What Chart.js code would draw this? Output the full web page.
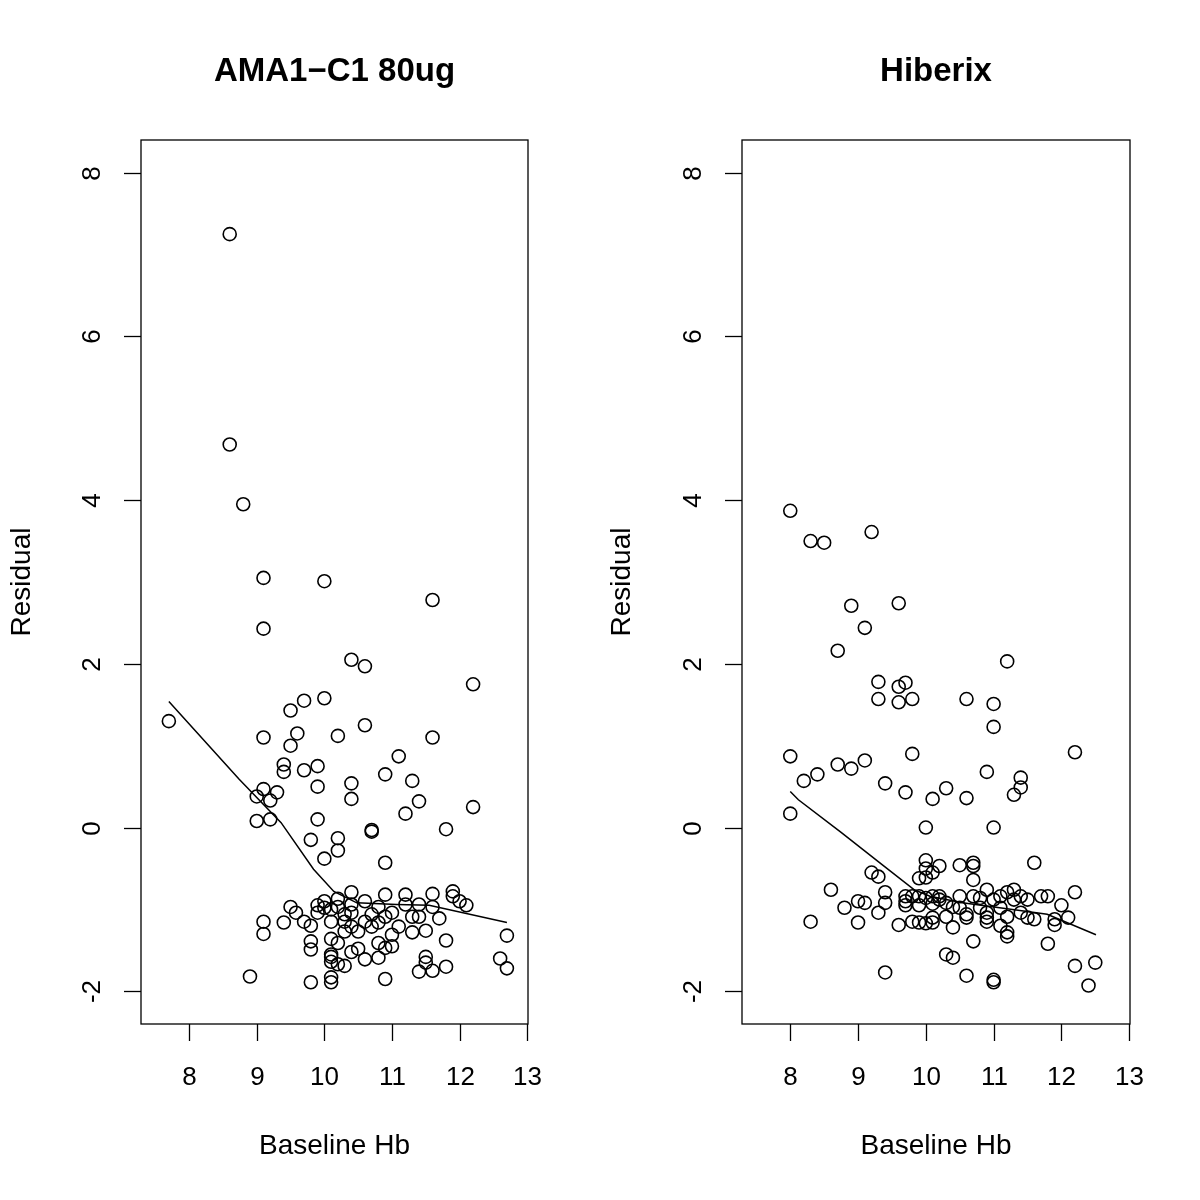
<!DOCTYPE html>
<html>
<head>
<meta charset="utf-8">
<script src="https://cdn.jsdelivr.net/npm/chart.js@4/dist/chart.umd.min.js"></script>
<style>
  html, body { margin: 0; padding: 0; background: #fff; }
  #wrap { position: relative; width: 1200px; height: 1200px; }
  canvas { position: absolute; top: 0; }
</style>
</head>
<body>
<div id="wrap">
  <canvas id="panelLeft" width="600" height="1200" style="left:0"></canvas>
  <canvas id="panelRight" width="600" height="1200" style="left:600px"></canvas>
</div>
<script>
// Eixos comuns
const xTicks = [8, 9, 10, 11, 12, 13];
const yTicks = [-2, 0, 2, 4, 6, 8];

// AMA1-C1 80ug — resíduos
const amaX = [
  8.6, 8.6, 8.8, 9.1, 9.1, 10.0, 11.6, 10.4, 10.6, 12.2, 7.7, 9.5, 9.7, 10.0, 9.6, 9.5, 9.1, 10.2, 10.6, 11.6,
  11.1, 9.4, 9.4, 9.7, 9.9, 10.9, 11.3, 9.9, 9.1, 9.3, 9.0, 9.2, 10.4, 10.4, 11.4, 11.2, 9.9, 9.0, 9.2, 12.2,
  11.8, 10.7, 10.7, 9.8, 10.2, 10.2, 10.0, 10.9,
  9.5, 9.58, 9.7, 9.8, 9.9, 10.0, 10.2, 9.9, 10.0, 9.1, 9.1, 9.4, 9.8, 9.8, 10.1, 10.1, 10.2, 8.9, 9.8, 10.1,
  10.1, 10.4, 10.9, 11.2, 11.6, 11.9, 11.9, 12.0, 12.1, 10.6, 10.4, 11.2, 11.4, 11.6, 10.8, 10.2, 10.1, 10.3,
  10.4, 10.7, 11.0, 11.3, 11.4, 11.7, 10.9, 10.1, 10.3, 10.6, 10.8, 10.4, 10.7, 10.3, 10.5, 11.1, 11.0, 11.3,
  11.5, 11.8, 10.2, 10.8, 11.0, 10.9, 10.4, 10.5, 10.6, 10.8, 10.1, 10.1, 10.3, 11.5, 11.5, 11.4, 11.6, 11.8,
  10.9, 12.7, 12.6, 12.7
];
const amaY = [
  7.25, 4.68, 3.95, 3.05, 2.43, 3.01, 2.78, 2.05, 1.97, 1.75, 1.30, 1.43, 1.55, 1.58, 1.15, 1.00, 1.10, 1.12, 1.25, 1.10,
  0.87, 0.77, 0.68, 0.70, 0.75, 0.65, 0.57, 0.50, 0.47, 0.43, 0.38, 0.33, 0.54, 0.35, 0.32, 0.17, 0.10, 0.08, 0.10, 0.25,
  -0.02, -0.05, -0.03, -0.15, -0.13, -0.28, -0.38, -0.43,
  -0.97, -1.04, -1.15, -1.20, -0.95, -0.90, -0.87, -1.04, -0.98, -1.15, -1.30, -1.16, -1.39, -1.49, -1.36, -1.55, -1.67, -1.82, -1.89, -1.83,
  -1.89, -0.79, -0.82, -0.82, -0.81, -0.78, -0.84, -0.90, -0.95, -0.90, -0.94, -0.94, -0.94, -0.97, -0.97, -0.97, -1.00, -1.06,
  -1.04, -1.06, -1.04, -1.09, -1.09, -1.11, -1.09, -1.15, -1.15, -1.15, -1.16, -1.21, -1.21, -1.27, -1.27, -1.21, -1.31, -1.28,
  -1.26, -1.38, -1.41, -1.41, -1.45, -1.47, -1.52, -1.48, -1.61, -1.59, -1.58, -1.64, -1.69, -1.58, -1.65, -1.76, -1.75, -1.70,
  -1.85, -1.32, -1.60, -1.72
];
const amaFitX = [7.7, 8.74, 9.36, 9.84, 10.14, 10.48, 11.07, 11.55, 12.7];
const amaFitY = [1.54, 0.59, 0.06, -0.51, -0.78, -0.92, -0.94, -0.95, -1.16];

// Hiberix — resíduos
const hibX = [
  8.0, 8.3, 8.5, 9.2, 8.9, 9.1, 9.6, 8.7, 9.3, 9.3, 9.6, 9.7, 9.6, 9.8, 10.6, 11.0, 11.2, 11.0, 9.8, 8.0,
  8.2, 8.4, 8.7, 8.9, 9.1, 9.4, 9.7, 10.1, 10.3, 10.6, 10.9, 11.3, 11.4, 11.4, 12.2, 8.0, 10.0, 11.0,
  10.0, 10.0, 10.1, 10.2, 9.9, 10.0, 10.5, 10.7, 10.7, 10.7, 11.6, 9.2, 9.3, 8.6, 9.4, 9.4, 9.0, 9.1, 8.8, 9.3,
  8.3, 9.0, 9.6, 9.7, 9.7, 9.7, 9.8, 9.9, 10.0, 10.1, 10.2, 9.9, 10.1, 9.8, 9.9, 10.0, 10.1, 10.1, 9.4,
  12.2, 12.0, 12.1, 11.9, 11.9, 11.8, 10.7, 10.4, 10.3, 10.4, 10.6, 11.0, 11.0, 11.2, 11.2, 11.1, 12.2, 12.5, 12.4,
  10.2, 10.3, 10.4, 10.5, 10.5, 10.6, 10.6, 10.7, 10.8, 10.8, 10.9, 10.9, 10.9, 10.9, 11.0, 11.1, 11.1, 11.2, 11.2,
  11.3, 11.3, 11.4, 11.4, 11.5, 11.5, 11.6, 11.7, 11.8, 10.3
];
const hibY = [
  3.87, 3.50, 3.48, 3.61, 2.71, 2.44, 2.74, 2.16, 1.78, 1.57, 1.72, 1.77, 1.53, 1.57, 1.57, 1.51, 2.03, 1.23, 0.90, 0.87,
  0.57, 0.65, 0.77, 0.72, 0.82, 0.54, 0.43, 0.35, 0.48, 0.36, 0.68, 0.40, 0.61, 0.49, 0.92, 0.17, 0.00, 0.00,
  -0.40, -0.50, -0.55, -0.47, -0.62, -0.61, -0.46, -0.43, -0.47, -0.64, -0.43, -0.55, -0.60, -0.76, -0.79, -0.92, -0.90, -0.92, -0.98, -1.04,
  -1.15, -1.16, -1.19, -0.84, -0.90, -0.95, -0.84, -0.84, -0.86, -0.84, -0.84, -0.95, -0.93, -1.15, -1.16, -1.17, -1.16, -1.10, -1.77,
  -0.79, -0.95, -1.10, -1.12, -1.19, -1.42, -1.39, -1.22, -1.55, -1.59, -1.81, -1.86, -1.89, -1.28, -1.33, -1.20, -1.69, -1.65, -1.93,
  -0.88, -0.92, -0.97, -0.84, -0.98, -1.06, -1.10, -0.84, -0.86, -0.98, -0.76, -1.04, -1.10, -1.15, -0.88, -0.84, -0.98, -0.79, -1.09,
  -0.76, -0.88, -0.84, -1.04, -0.88, -1.10, -1.12, -0.84, -0.84, -1.09
];
const hibFitX = [8.0, 8.12, 8.75, 9.35, 9.83, 10.06, 10.54, 11.28, 11.79, 12.51];
const hibFitY = [0.44, 0.34, -0.06, -0.45, -0.76, -0.84, -0.92, -1.00, -1.06, -1.31];

const FONT = '"Liberation Sans", Arial, Helvetica, sans-serif';

// Eixos no estilo R: caixa, marcas para fora, rótulos do eixo y girados
const rAxes = {
  id: 'rAxes',
  afterDraw(chart, args, opts) {
    const { ctx, chartArea: a, scales: { x, y } } = chart;
    ctx.save();
    ctx.strokeStyle = '#000';
    ctx.fillStyle = '#000';
    ctx.lineWidth = 1.3;
    ctx.strokeRect(a.left, a.top, a.right - a.left, a.bottom - a.top);

    ctx.font = '26px ' + FONT;
    ctx.textAlign = 'center';
    ctx.textBaseline = 'middle';
    xTicks.forEach(v => {
      const px = Math.round(x.getPixelForValue(v)) + 0.5;
      ctx.beginPath(); ctx.moveTo(px, a.bottom); ctx.lineTo(px, a.bottom + 17); ctx.stroke();
      ctx.fillText(String(v), px, a.bottom + 54);
    });
    yTicks.forEach(v => {
      const py = Math.round(y.getPixelForValue(v)) + 0.5;
      ctx.beginPath(); ctx.moveTo(a.left - 17, py); ctx.lineTo(a.left, py); ctx.stroke();
      ctx.save();
      ctx.translate(a.left - 48, py);
      ctx.rotate(-Math.PI / 2);
      ctx.fillText(String(v), 0, 0);
      ctx.restore();
    });

    const cx = (a.left + a.right) / 2;
    ctx.font = '28px ' + FONT;
    ctx.fillText('Baseline Hb', cx, 1146);
    ctx.save();
    ctx.translate(22, (a.top + a.bottom) / 2);
    ctx.rotate(-Math.PI / 2);
    ctx.fillText('Residual', 0, 0);
    ctx.restore();

    ctx.font = 'bold 33px ' + FONT;
    ctx.fillText(opts.title, cx, 72);
    ctx.restore();
  }
};

function toPts(xs, ys) {
  return xs.map((v, i) => ({ x: v, y: ys[i] }));
}

function buildPanel(canvasId, title, xs, ys, fitX, fitY, padLeft, padRight) {
  return new Chart(document.getElementById(canvasId), {
    type: 'scatter',
    data: {
      datasets: [
        {
          data: toPts(xs, ys),
          pointStyle: 'circle',
          pointRadius: 6.5,
          pointBorderWidth: 1.6,
          borderColor: '#000',
          backgroundColor: 'rgba(0,0,0,0)',
        },
        {
          type: 'line',
          data: toPts(fitX, fitY),
          showLine: true,
          borderColor: '#000',
          borderWidth: 1.5,
          pointRadius: 0,
          tension: 0,
          fill: false,
        },
      ],
    },
    options: {
      responsive: false,
      animation: false,
      devicePixelRatio: 1,
      layout: { padding: { left: padLeft, right: padRight, top: 140, bottom: 176 } },
      plugins: { legend: { display: false }, tooltip: { enabled: false }, rAxes: { title } },
      scales: {
        x: { type: 'linear', min: 7.288, max: 13.012, display: false },
        y: { type: 'linear', min: -2.4, max: 8.4, display: false },
      },
    },
    plugins: [rAxes],
  });
}

buildPanel('panelLeft', 'AMA1\u2212C1 80ug', amaX, amaY, amaFitX, amaFitY, 141, 72);
buildPanel('panelRight', 'Hiberix', hibX, hibY, hibFitX, hibFitY, 142, 70);
</script>
</body>
</html>
